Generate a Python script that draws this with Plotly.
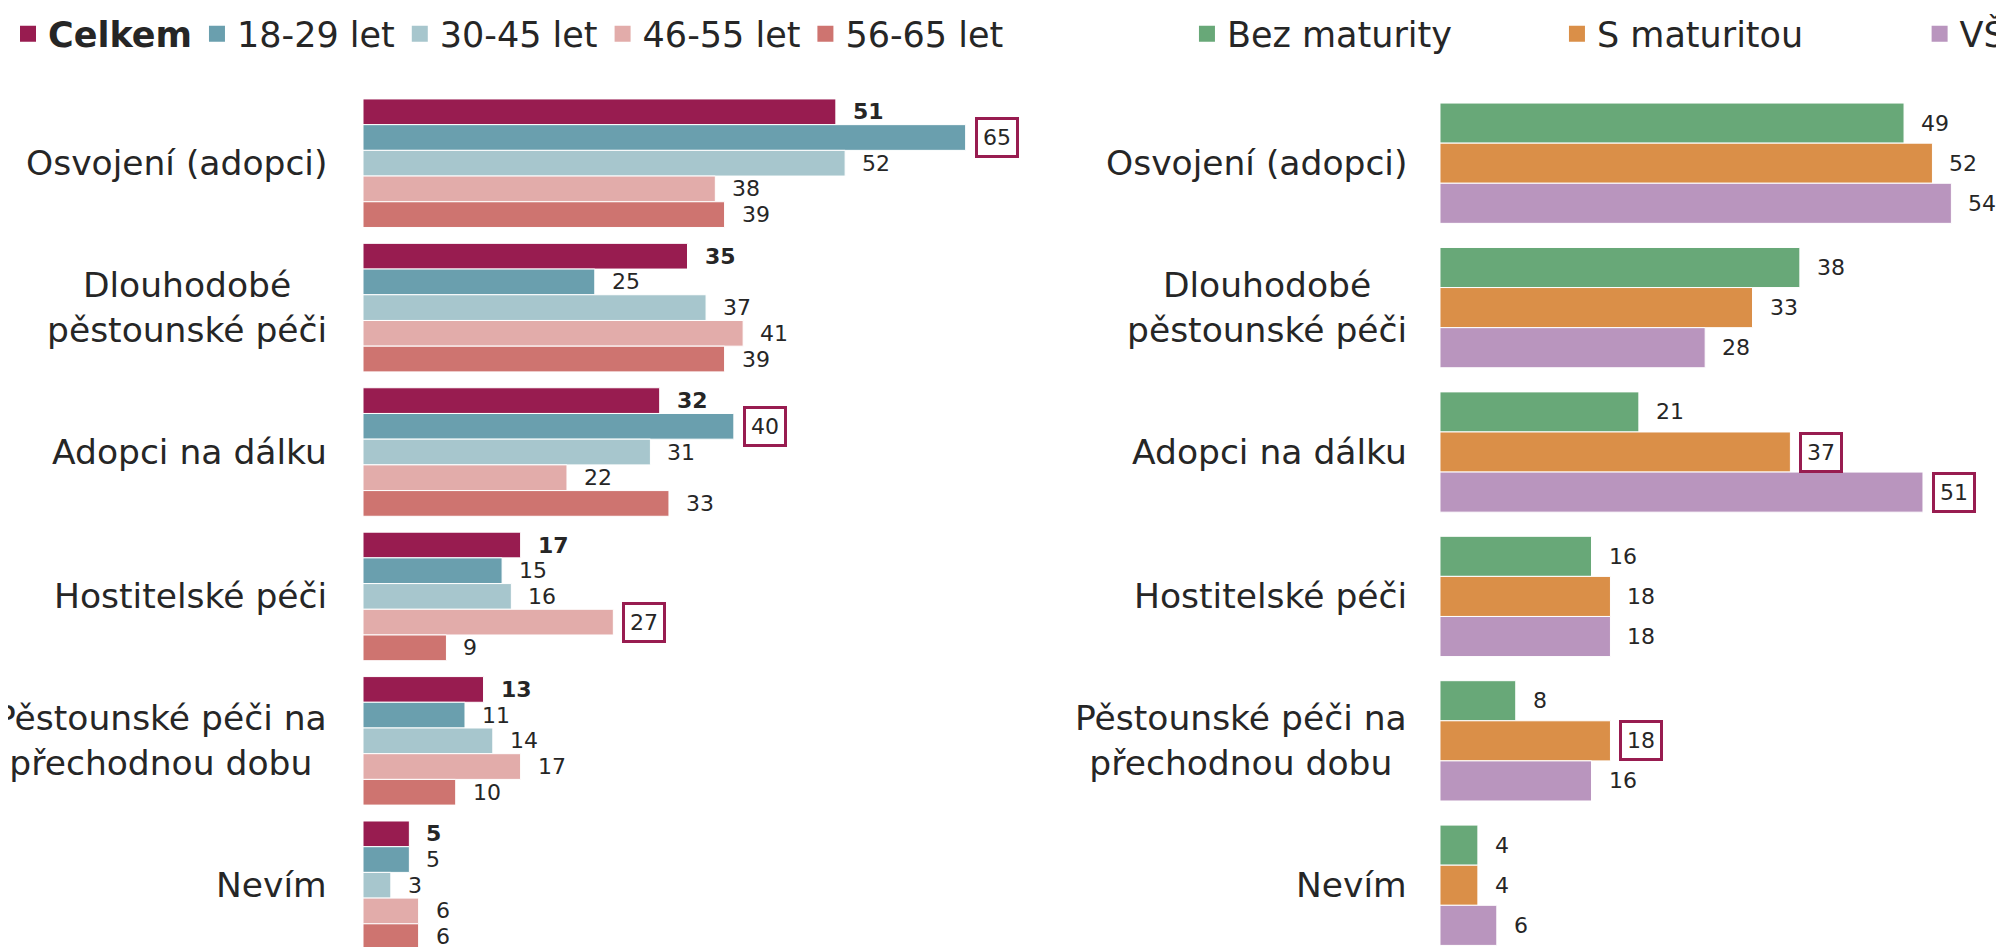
import plotly.graph_objects as go

# Data
categories = ['Osvojení (adopci)', 'Dlouhodobé<br>pěstounské péči', 'Adopci na dálku',
              'Hostitelské péči', 'Pěstounské péči na<br>přechodnou dobu', 'Nevím']

age_groups = ['Celkem', '18-29 let', '30-45 let', '46-55 let', '56-65 let']
celkem = [51, 35, 32, 17, 13, 5]
age_18_29 = [65, 25, 40, 15, 11, 5]
age_30_45 = [52, 37, 31, 16, 14, 3]
age_46_55 = [38, 41, 22, 27, 17, 6]
age_56_65 = [39, 39, 33, 9, 10, 6]

edu_groups = ['Bez maturity', 'S maturitou', 'VŠ']
bez_maturity = [49, 38, 21, 16, 8, 4]
s_maturitou = [52, 33, 37, 18, 18, 4]
vs = [54, 28, 51, 18, 16, 6]

# boxed values: (series index, category index)
age_highlight = [(1, 0), (1, 2), (3, 3)]
edu_highlight = [(1, 2), (2, 2), (1, 4)]

age_colors = ['#981C50', '#6A9FAE', '#A7C6CD', '#E2ACAA', '#CE7470']
edu_colors = ['#68A878', '#DA8F48', '#B995BE']
box_color = '#981C50'
text_color = '#262626'
font = 'DejaVu Sans, Verdana, sans-serif'

age_values = [celkem, age_18_29, age_30_45, age_46_55, age_56_65]
edu_values = [bez_maturity, s_maturitou, vs]

fig = go.Figure()
annotations = []

def add_panel(names, values, colors, highlight, group_width, xname, yname, legends, label_shift):
    n = len(names)
    w = group_width / n
    for k, (name, vals, col) in enumerate(zip(names, values, colors)):
        off = -group_width / 2 + w * k
        label = '<b>%s</b>' % name if name == 'Celkem' else name
        fig.add_trace(go.Bar(
            y=categories, x=vals, orientation='h',
            name=label, width=w, offset=off,
            marker=dict(color=col, line=dict(color='white', width=1)),
            xaxis=xname, yaxis=yname, showlegend=False,
            hoverinfo='x+y'
        ))
        # legend entry with a bigger square symbol
        fig.add_trace(go.Scatter(
            x=[None], y=[None], mode='markers', name=label,
            marker=dict(symbol='square', size=16, color=col),
            xaxis=xname, yaxis=yname, legend=legends[k]
        ))
        for i, v in enumerate(vals):
            boxed = (k, i) in highlight
            txt = '<b>%d</b>' % v if name == 'Celkem' else str(v)
            annotations.append(dict(
                x=v, y=i + off + w / 2, xref=xname, yref=yname,
                text=txt, showarrow=False, xanchor='left', yanchor='middle',
                xshift=9, font=dict(size=22, color=text_color, family=font),
                bordercolor=box_color if boxed else 'rgba(0,0,0,0)',
                borderwidth=3, borderpad=5,
                bgcolor='white' if boxed else 'rgba(0,0,0,0)'
            ))
    for cat in categories:
        annotations.append(dict(
            x=0, y=cat, xref=xname, yref=yname, text=cat, showarrow=False,
            xanchor='right', yanchor='middle', xshift=label_shift, align='center',
            font=dict(size=34.5, color=text_color, family=font)
        ))

add_panel(age_groups, age_values, age_colors, age_highlight, 0.89, 'x', 'y',
          ['legend'] * 5, -34)
add_panel(edu_groups, edu_values, edu_colors, edu_highlight, 0.833, 'x2', 'y2',
          ['legend2', 'legend2', 'legend3'], -31)

legend_style = dict(orientation='h', xanchor='left', yanchor='middle',
                    yref='container', y=1 - 26 / 947,
                    font=dict(size=35, color=text_color, family=font),
                    bgcolor='rgba(0,0,0,0)', traceorder='normal')

y_range = [5.483, -0.5]

fig.update_layout(
    width=2004, height=947,
    margin=dict(l=0, r=0, t=83, b=0, autoexpand=False),
    paper_bgcolor='white', plot_bgcolor='white',
    font=dict(family=font, color=text_color),
    xaxis=dict(domain=[0.17715, 0.5010], range=[0, 70], visible=False),
    xaxis2=dict(domain=[0.71457, 1.0], range=[0, 60.4], visible=False),
    yaxis=dict(anchor='x', range=y_range, showticklabels=False,
               showgrid=False, zeroline=False, showline=False, ticks=''),
    yaxis2=dict(anchor='x2', range=y_range, showticklabels=False,
                showgrid=False, zeroline=False, showline=False, ticks=''),
    legend=dict(x=0.0, **legend_style),
    legend2=dict(x=0.5883, entrywidth=325, **legend_style),
    legend3=dict(x=0.9539, **legend_style),
    annotations=annotations,
    showlegend=True
)

fig.write_html('out.html')
